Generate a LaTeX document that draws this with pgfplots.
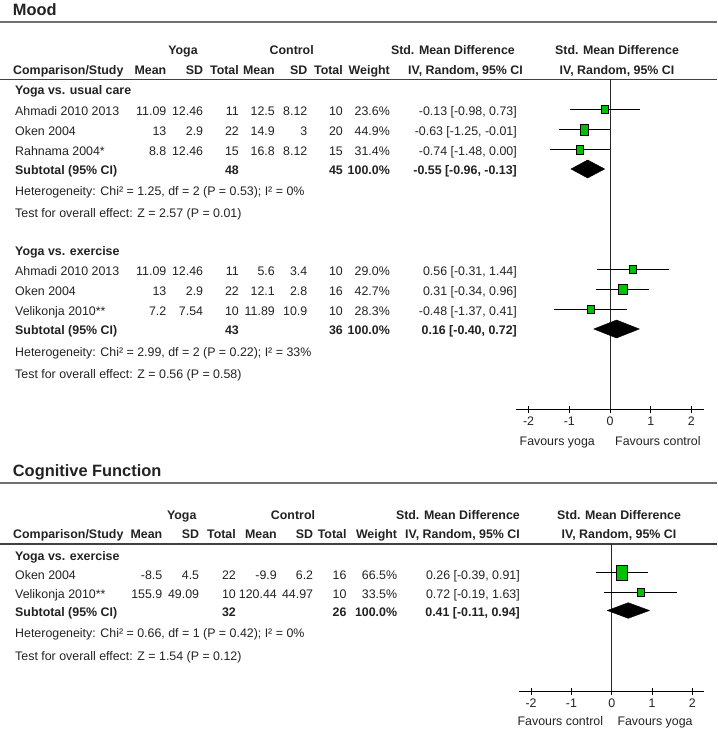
\documentclass[border=0pt]{standalone}
\usepackage{fontspec}
\setmainfont{Liberation Sans}
\usepackage{pgfplots}
\pgfplotsset{compat=1.18}
\definecolor{txt}{HTML}{222222}
\definecolor{sq}{RGB}{0,192,0}
\definecolor{rulec}{HTML}{707070}
\newcommand\cl[3]{\node[anchor=base east,inner sep=0pt,text=txt] at (#1,-#2) {#3};}
\newcommand\lt[3]{\node[anchor=base west,inner sep=0pt,text=txt] at (#1,-#2) {#3};}
\newcommand\ct[3]{\node[anchor=base,inner sep=0pt,text=txt] at (#1,-#2) {#3};}
\newcommand\srow[9]{\cl{\xA}{#1}{#2}\cl{\xB}{#1}{#3}\cl{\xC}{#1}{#4}\cl{\xD}{#1}{#5}\cl{\xE}{#1}{#6}\cl{\xF}{#1}{#7}\cl{\xG}{#1}{#8}\cl{\xH}{#1}{#9}}
\newcommand\sqm[3]{\addplot[only marks, mark=square*, mark size=#2pt, mark options={fill=sq, draw=none, yscale=#3}] coordinates {#1};}
\pgfplotsset{forest/.style={
  clip=false, x=1pt, y=1pt,
  axis x line*=bottom, axis y line=none,
  xtick={-2,-1,0,1,2}, xticklabels={-2,-1,0,1,2},
  xtick align=center, major tick length=7pt,
  every tick/.style={black, line width=0.8pt},
  axis line style={black, line width=0.8pt},
  xticklabel style={text=txt},
}}
\begin{document}
\fontsize{12.4}{14}\selectfont
\begin{tikzpicture}[x=1pt,y=1pt]
\useasboundingbox (0,0) rectangle (717,-730);
% ================= MOOD =================
\node[anchor=base west,inner sep=0pt,text=txt,font=\fontsize{16.4}{18}\selectfont\bfseries] at (12.7,-15.2) {Mood};
\draw[rulec, line width=2pt] (0,-22) -- (717,-22);
\def\xA{166.5}\def\xB{203.3}\def\xC{239}\def\xD{275}\def\xE{307.5}\def\xF{343}\def\xG{390}\def\xH{517}
\begin{scope}[font=\bfseries]
\ct{183}{54.4}{Yoga}
\ct{291.7}{54.4}{Control}
\cl{515}{54.4}{Std. Mean Difference}
\ct{617}{54.4}{Std. Mean Difference}
\lt{13}{74.4}{Comparison/Study}
\cl{\xA}{74.4}{Mean}\cl{\xB}{74.4}{SD}\cl{\xC}{74.4}{Total}
\cl{\xD}{74.4}{Mean}\cl{\xE}{74.4}{SD}\cl{\xF}{74.4}{Total}\cl{\xG}{74.4}{Weight}
\cl{523}{74.4}{IV, Random, 95\% CI}
\ct{617}{74.4}{IV, Random, 95\% CI}
\lt{15}{94.5}{Yoga vs. usual care}
\lt{15}{174.5}{Subtotal (95\% CI)}
\cl{\xC}{174.5}{48}\cl{\xF}{174.5}{45}\cl{\xG}{174.5}{100.0\%}\cl{\xH}{174.5}{-0.55 [-0.96, -0.13]}
\lt{15}{255.5}{Yoga vs. exercise}
\lt{15}{334.5}{Subtotal (95\% CI)}
\cl{\xC}{334.5}{43}\cl{\xF}{334.5}{36}\cl{\xG}{334.5}{100.0\%}\cl{\xH}{334.5}{0.16 [-0.40, 0.72]}
\end{scope}
\draw[black!75, line width=1.3pt] (0,-79.5) -- (717,-79.5);
\lt{15}{116}{Ahmadi 2010 2013}\srow{116}{11.09}{12.46}{11}{12.5}{8.12}{10}{23.6\%}{-0.13 [-0.98, 0.73]}
\lt{15}{136}{Oken 2004}\srow{136}{13}{2.9}{22}{14.9}{3}{20}{44.9\%}{-0.63 [-1.25, -0.01]}
\lt{15}{156}{Rahnama 2004*}\srow{156}{8.8}{12.46}{15}{16.8}{8.12}{15}{31.4\%}{-0.74 [-1.48, 0.00]}
\lt{15}{195.5}{Heterogeneity: Chi² = 1.25, df = 2 (P = 0.53); I² = 0\%}
\lt{15}{217}{Test for overall effect: Z = 2.57 (P = 0.01)}
\lt{15}{275.7}{Ahmadi 2010 2013}\srow{275.7}{11.09}{12.46}{11}{5.6}{3.4}{10}{29.0\%}{0.56 [-0.31, 1.44]}
\lt{15}{295.7}{Oken 2004}\srow{295.7}{13}{2.9}{22}{12.1}{2.8}{16}{42.7\%}{0.31 [-0.34, 0.96]}
\lt{15}{315.7}{Velikonja 2010**}\srow{315.7}{7.2}{7.54}{10}{11.89}{10.9}{10}{28.3\%}{-0.48 [-1.37, 0.41]}
\lt{15}{356.5}{Heterogeneity: Chi² = 2.99, df = 2 (P = 0.22); I² = 33\%}
\lt{15}{378.5}{Test for overall effect: Z = 0.56 (P = 0.58)}
\cl{595}{445.4}{Favours yoga}
\lt{615}{445.4}{Favours control}
\begin{axis}[forest, at={(516pt,-409.3pt)}, anchor=south west,
  x=40.7pt, xmin=-2.3096, xmax=2.3096, ymin=-409.3, ymax=-79.5]
\addplot[black!85, line width=0.8pt] coordinates {(0,-79.5) (0,-409.3)};
% CIs
\addplot[black, line width=0.8pt] coordinates {(-0.98,-109.5) (0.73,-109.5)};
\addplot[black, line width=0.8pt] coordinates {(-1.25,-129.5) (-0.01,-129.5)};
\addplot[black, line width=0.8pt] coordinates {(-1.48,-149.5) (0.00,-149.5)};
\addplot[black, line width=0.8pt] coordinates {(-0.31,-269.3) (1.44,-269.3)};
\addplot[black, line width=0.8pt] coordinates {(-0.34,-289.3) (0.96,-289.3)};
\addplot[black, line width=0.8pt] coordinates {(-1.37,-309.3) (0.41,-309.3)};
% squares
\sqm{(-0.13,-109.5)}{3.1}{1.25}
\sqm{(-0.63,-129.5)}{4.3}{1.3}
\sqm{(-0.74,-149.5)}{3.4}{1.3}
\sqm{(0.56,-269.3)}{3.4}{1.2}
\sqm{(0.31,-289.3)}{4.3}{1.25}
\sqm{(-0.48,-309.3)}{3.3}{1.2}
% diamonds
\addplot[fill=black, draw=black] coordinates {(-0.96,-169) (-0.55,-160) (-0.13,-169) (-0.55,-178) (-0.96,-169)};
\addplot[fill=black, draw=black] coordinates {(-0.40,-329) (0.16,-320) (0.72,-329) (0.16,-338) (-0.40,-329)};
\end{axis}
% ================= COGNITIVE =================
\node[anchor=base west,inner sep=0pt,text=txt,font=\fontsize{16.4}{18}\selectfont\bfseries] at (12.7,-476) {Cognitive Function};
\draw[rulec, line width=2pt] (0,-482.7) -- (717,-482.7);
\def\xA{162.5}\def\xB{199.3}\def\xC{236}\def\xD{277}\def\xE{313.3}\def\xF{346.7}\def\xG{397.3}\def\xH{520}
\begin{scope}[font=\bfseries]
\ct{181.7}{519.4}{Yoga}
\ct{293}{519.4}{Control}
\cl{520}{519.4}{Std. Mean Difference}
\ct{619}{519.4}{Std. Mean Difference}
\lt{13}{538.7}{Comparison/Study}
\cl{\xA}{538.7}{Mean}\cl{\xB}{538.7}{SD}\cl{\xC}{538.7}{Total}
\cl{\xD}{538.7}{Mean}\cl{\xE}{538.7}{SD}\cl{\xF}{538.7}{Total}\cl{\xG}{538.7}{Weight}
\cl{520}{538.7}{IV, Random, 95\% CI}
\ct{619}{538.7}{IV, Random, 95\% CI}
\lt{15}{560}{Yoga vs. exercise}
\lt{15}{616}{Subtotal (95\% CI)}
\cl{\xC}{616}{32}\cl{\xF}{616}{26}\cl{\xG}{616}{100.0\%}\cl{\xH}{616}{0.41 [-0.11, 0.94]}
\end{scope}
\draw[black!75, line width=1.3pt] (0,-544) -- (717,-544);
\lt{15}{579}{Oken 2004}\srow{579}{-8.5}{4.5}{22}{-9.9}{6.2}{16}{66.5\%}{0.26 [-0.39, 0.91]}
\lt{15}{598.7}{Velikonja 2010**}\srow{598.7}{155.9}{49.09}{10}{120.44}{44.97}{10}{33.5\%}{0.72 [-0.19, 1.63]}
\lt{15}{637.5}{Heterogeneity: Chi² = 0.66, df = 1 (P = 0.42); I² = 0\%}
\lt{15}{660.5}{Test for overall effect: Z = 1.54 (P = 0.12)}
\cl{603.3}{725.4}{Favours control}
\lt{617.3}{725.4}{Favours yoga}
\begin{axis}[forest, at={(519pt,-691pt)}, anchor=south west,
  x=40.3pt, xmin=-2.300, xmax=2.290, ymin=-691, ymax=-544]
\addplot[black!85, line width=0.8pt] coordinates {(0,-544) (0,-691)};
\addplot[black, line width=0.8pt] coordinates {(-0.39,-572.7) (0.91,-572.7)};
\addplot[black, line width=0.8pt] coordinates {(-0.19,-592.3) (1.63,-592.3)};
\sqm{(0.26,-572.7)}{5.5}{1.32}
\sqm{(0.72,-592.3)}{3.4}{1.2}
\addplot[fill=black, draw=black] coordinates {(-0.11,-610.5) (0.41,-602.7) (0.94,-610.5) (0.41,-618.3) (-0.11,-610.5)};
\end{axis}
\end{tikzpicture}
\end{document}
